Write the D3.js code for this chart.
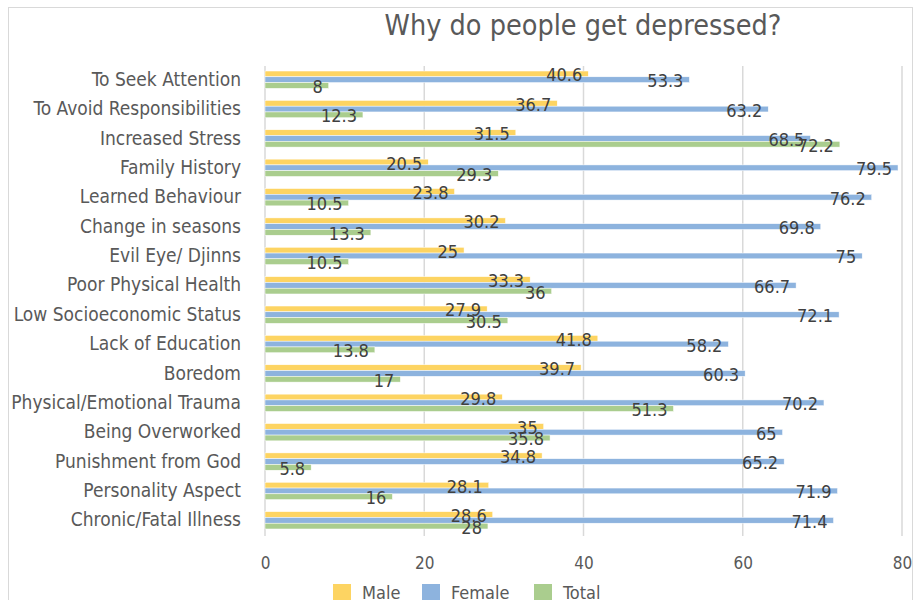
<!DOCTYPE html>
<html>
<head>
<meta charset="utf-8">
<script src="https://cdn.jsdelivr.net/npm/d3@7"></script>
<style>
  body { margin: 0; background: #fff; }
  svg { display: block; font-family: "DejaVu Sans Condensed", "DejaVu Sans", sans-serif; }
</style>
</head>
<body>
<div id="chart"></div>
<script>
var categories = ["To Seek Attention", "To Avoid Responsibilities", "Increased Stress", "Family History",
  "Learned Behaviour", "Change in seasons", "Evil Eye/ Djinns", "Poor Physical Health",
  "Low Socioeconomic Status", "Lack of Education", "Boredom", "Physical/Emotional Trauma",
  "Being Overworked", "Punishment from God", "Personality Aspect", "Chronic/Fatal Illness"];
var seriesNames = ["Male", "Female", "Total"];
var maleValues = [40.6, 36.7, 31.5, 20.5, 23.8, 30.2, 25, 33.3, 27.9, 41.8, 39.7, 29.8, 35, 34.8, 28.1, 28.6];
var femaleValues = [53.3, 63.2, 68.5, 79.5, 76.2, 69.8, 75, 66.7, 72.1, 58.2, 60.3, 70.2, 65, 65.2, 71.9, 71.4];
var totalValues = [8, 12.3, 72.2, 29.3, 10.5, 13.3, 10.5, 36, 30.5, 13.8, 17, 51.3, 35.8, 5.8, 16, 28];
var xTicks = [0, 20, 40, 60, 80];

var colors = {"Male": "#fdd462", "Female": "#8db3de", "Total": "#aacd8e"};

var width = 917, height = 600;
var svg = d3.select("#chart").append("svg")
  .attr("width", width)
  .attr("height", height);

// chart frame
svg.append("rect")
  .attr("x", 8.5).attr("y", 7.5)
  .attr("width", 904).attr("height", 620)
  .attr("fill", "#fff")
  .attr("stroke", "#d9d9d9");

var x = d3.scaleLinear().domain([0, 80]).range([265, 902]);
var y = d3.scaleBand().domain(categories).range([65, 535]).paddingInner(0.41).paddingOuter(0.205);
var ySub = d3.scaleBand().domain(seriesNames).range([0, y.bandwidth()]);

// rows built from the arrays
var rows = [];
categories.forEach(function(c, i) {
  rows.push({cat: c, series: "Male", value: maleValues[i]});
  rows.push({cat: c, series: "Female", value: femaleValues[i]});
  rows.push({cat: c, series: "Total", value: totalValues[i]});
});

// gridlines
svg.append("g")
  .selectAll("line")
  .data(xTicks)
  .enter().append("line")
  .attr("x1", function(d) { return x(d); })
  .attr("x2", function(d) { return x(d); })
  .attr("y1", 66)
  .attr("y2", 536)
  .attr("stroke", "#d9d9d9")
  .attr("stroke-width", 1.5);

// x axis labels
var xAxis = svg.append("g")
  .attr("transform", "translate(0,536)")
  .call(d3.axisBottom(x).tickValues(xTicks).tickSize(0).tickPadding(21));
xAxis.select(".domain").remove();
xAxis.selectAll("text")
  .attr("fill", "#595959")
  .attr("font-size", "17px")
  .attr("font-family", "DejaVu Sans Condensed");

// y axis labels
var yAxis = svg.append("g")
  .attr("transform", "translate(265,0)")
  .call(d3.axisLeft(y).tickSize(0).tickPadding(24));
yAxis.select(".domain").remove();
yAxis.selectAll("text")
  .attr("fill", "#595959")
  .attr("font-size", "19px")
  .attr("font-family", "DejaVu Sans Condensed");

// bars
svg.append("g")
  .selectAll("rect")
  .data(rows)
  .enter().append("rect")
  .attr("x", x(0))
  .attr("y", function(d) { return y(d.cat) + ySub(d.series); })
  .attr("width", function(d) { return x(d.value) - x(0); })
  .attr("height", ySub.bandwidth())
  .attr("fill", function(d) { return colors[d.series]; })
  .attr("stroke", "#fff")
  .attr("stroke-width", 0.5);

// data labels
svg.append("g")
  .selectAll("text")
  .data(rows)
  .enter().append("text")
  .attr("x", function(d) { return x(d.value) - 6; })
  .attr("y", function(d) { return y(d.cat) + ySub(d.series) + ySub.bandwidth() / 2 + 1; })
  .attr("dy", "0.36em")
  .attr("text-anchor", "end")
  .attr("fill", "#404040")
  .attr("font-size", "18px")
  .text(function(d) { return d.value; });

// title
svg.append("text")
  .attr("x", 583)
  .attr("y", 35)
  .attr("text-anchor", "middle")
  .attr("fill", "#595959")
  .attr("font-size", "28.5px")
  .text("Why do people get depressed?");

// legend
var legendX = [333, 422, 534];
var legend = svg.append("g")
  .selectAll("g")
  .data(seriesNames)
  .enter().append("g")
  .attr("transform", function(d, i) { return "translate(" + legendX[i] + ",584)"; });
legend.append("rect")
  .attr("width", 18).attr("height", 18)
  .attr("fill", function(d) { return colors[d]; });
legend.append("text")
  .attr("x", 29)
  .attr("y", 15)
  .attr("fill", "#595959")
  .attr("font-size", "18px")
  .text(function(d) { return d; });
</script>
</body>
</html>
